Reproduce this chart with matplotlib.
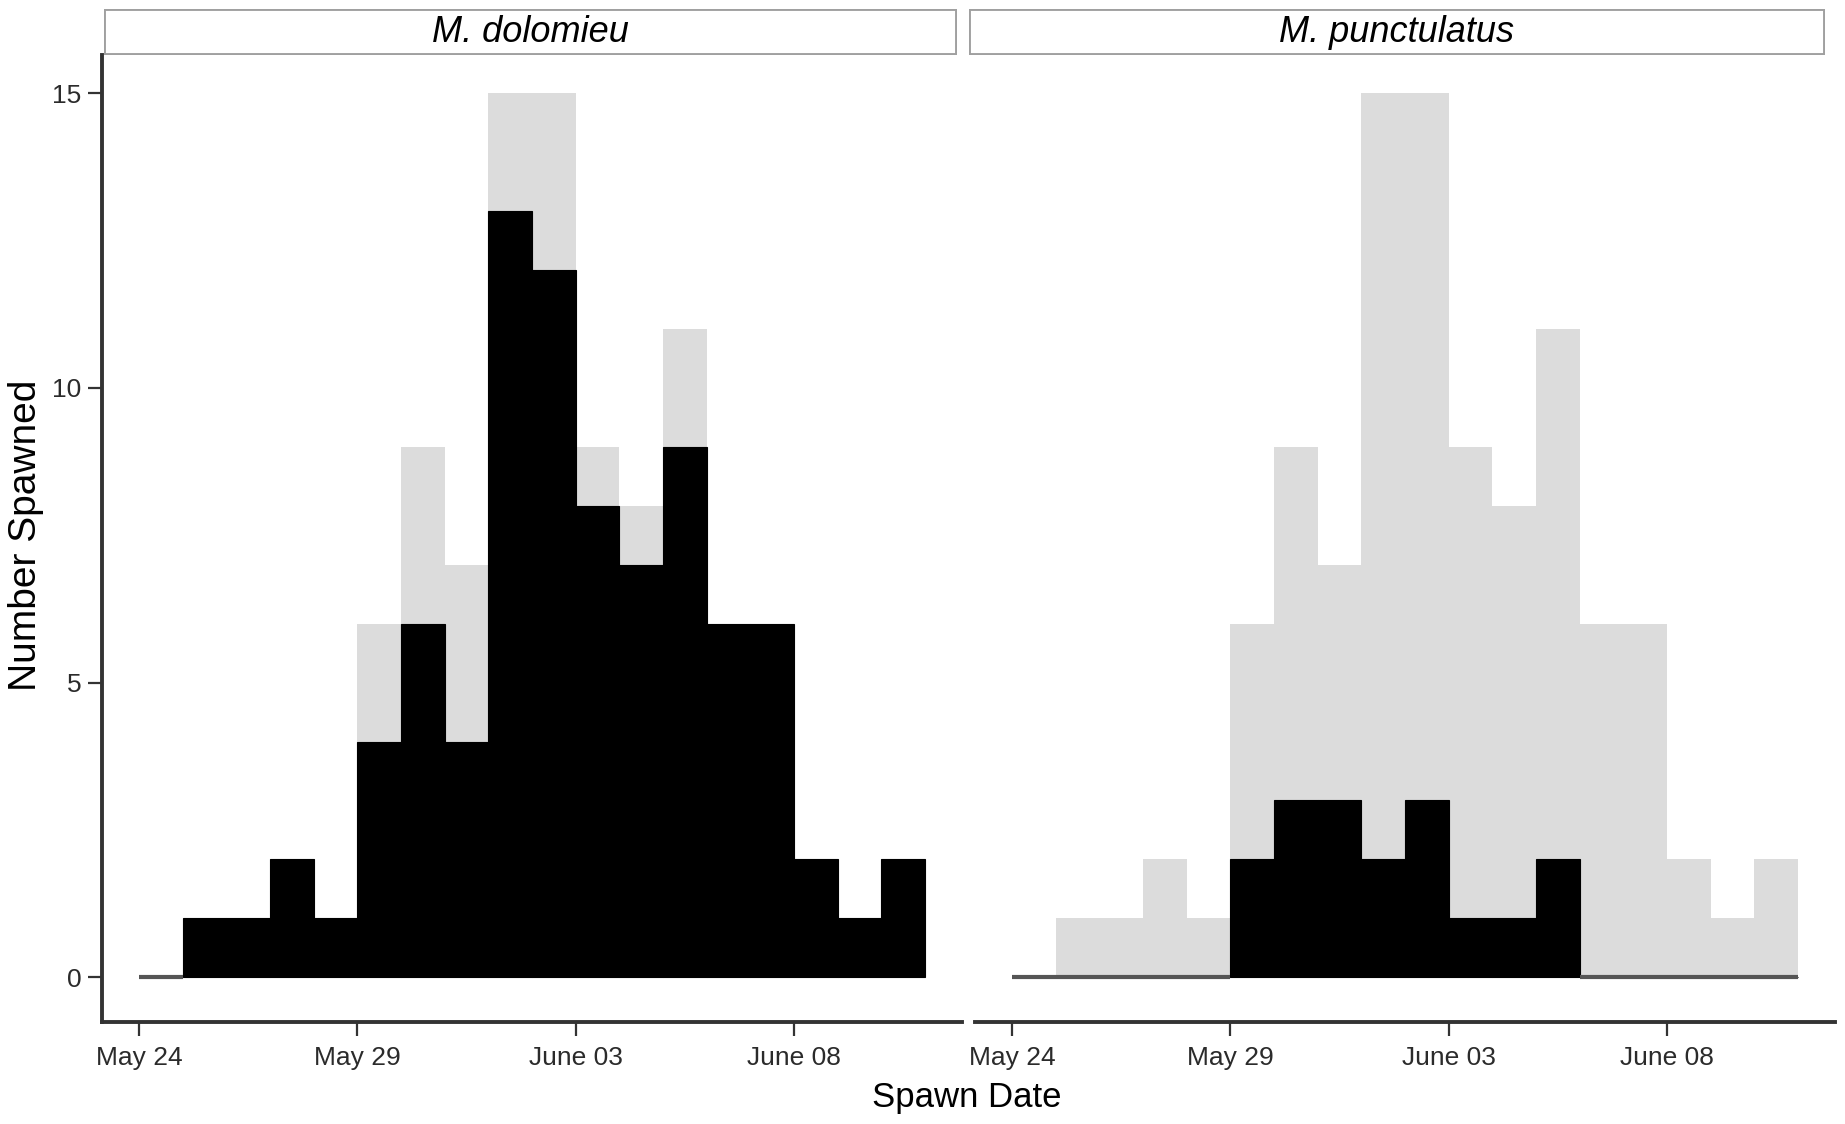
import matplotlib
matplotlib.use("Agg")
import matplotlib.pyplot as plt
import matplotlib.dates as mdates
from matplotlib.patches import Rectangle
import numpy as np

plt.rcParams['font.family'] = ['Liberation Sans', 'DejaVu Sans']

# daily bins, May 24 .. June 10
binDays = np.arange(np.datetime64('2016-05-24'), np.datetime64('2016-06-11'))
allSpawned = [0, 1, 1, 2, 1, 6, 9, 7, 15, 15, 9, 8, 11, 6, 6, 2, 1, 2]
dolomieu = [0, 1, 1, 2, 1, 4, 6, 4, 13, 12, 8, 7, 9, 6, 6, 2, 1, 2]
punctulatus = [0, 0, 0, 0, 0, 2, 3, 3, 2, 3, 1, 1, 2, 0, 0, 0, 0, 0]
species = ["M. dolomieu", "M. punctulatus"]
tickDays = np.array(['2016-05-24', '2016-05-29', '2016-06-03', '2016-06-08'], dtype='datetime64[D]')
tickLabels = ["May 24", "May 29", "June 03", "June 08"]

W, H = 1845, 1124
fig = plt.figure(figsize=(W/100, H/100), dpi=100)

def fx(px):
  return px / W

def fy(py):
  return 1 - py / H

x0 = mdates.date2num(binDays[0])
xlim = (x0 - 0.85, x0 + 18.85)
axBottom, axTop = 1022, 55
panels = [(102, 962), (975, 1835)]
strips = [(103.5, 957), (969, 1825)]

for i, (counts, name) in enumerate(zip([dolomieu, punctulatus], species)):
  l, r = panels[i]
  ax = fig.add_axes([fx(l), fy(axBottom), fx(r - l), (axBottom - axTop) / H])
  counts = np.array(counts)
  ax.bar(binDays, allSpawned, width=1, align='edge', color='#dcdcdc',
         linewidth=0, zorder=1)
  ax.bar(binDays, counts, width=1, align='edge', color='black',
         edgecolor='black', linewidth=0.8, zorder=2)
  # empty bins show as a flat line at zero
  zero = counts == 0
  ax.bar(binDays[zero], counts[zero], width=1, align='edge', color='none',
         edgecolor='#555555', linewidth=3, zorder=3)
  ax.set_xlim(xlim)
  ax.set_ylim(-0.76, 15.65)
  ax.set_xticks(mdates.date2num(tickDays))
  ax.set_xticklabels(tickLabels)
  ax.set_yticks([0, 5, 10, 15])
  for s in ['top', 'right']:
    ax.spines[s].set_visible(False)
  ax.spines['bottom'].set_linewidth(2.8)
  ax.spines['bottom'].set_color('#333333')
  ax.spines['left'].set_linewidth(2.8)
  ax.spines['left'].set_color('#333333')
  ax.tick_params(axis='both', length=10, width=1.6, color='#333333',
                 labelcolor='#2b2b2b', labelsize=19)
  ax.tick_params(axis='x', pad=7)
  ax.tick_params(axis='y', pad=5)
  if i == 1:
    ax.spines['left'].set_visible(False)
    ax.tick_params(axis='y', left=False, labelleft=False)

  # facet strip
  sl, sr = strips[i]
  sax = fig.add_axes([fx(sl), fy(55), fx(sr - sl), 46 / H])
  sax.set_axis_off()
  sax.add_patch(Rectangle((0, 0), 1, 1, transform=sax.transAxes,
                          facecolor='white', edgecolor='#a0a0a0', linewidth=2.8))
  sax.text(0.5, 0.5, name, transform=sax.transAxes, ha='center', va='center',
           fontsize=26, style='italic', color='black')

fig.text(fx(967), fy(1098), "Spawn Date", ha='center', va='center', fontsize=25)
fig.text(fx(26), fy(535), "Number Spawned", ha='center', va='center',
         fontsize=28, rotation=90)

fig.savefig("out.png", dpi=100)
